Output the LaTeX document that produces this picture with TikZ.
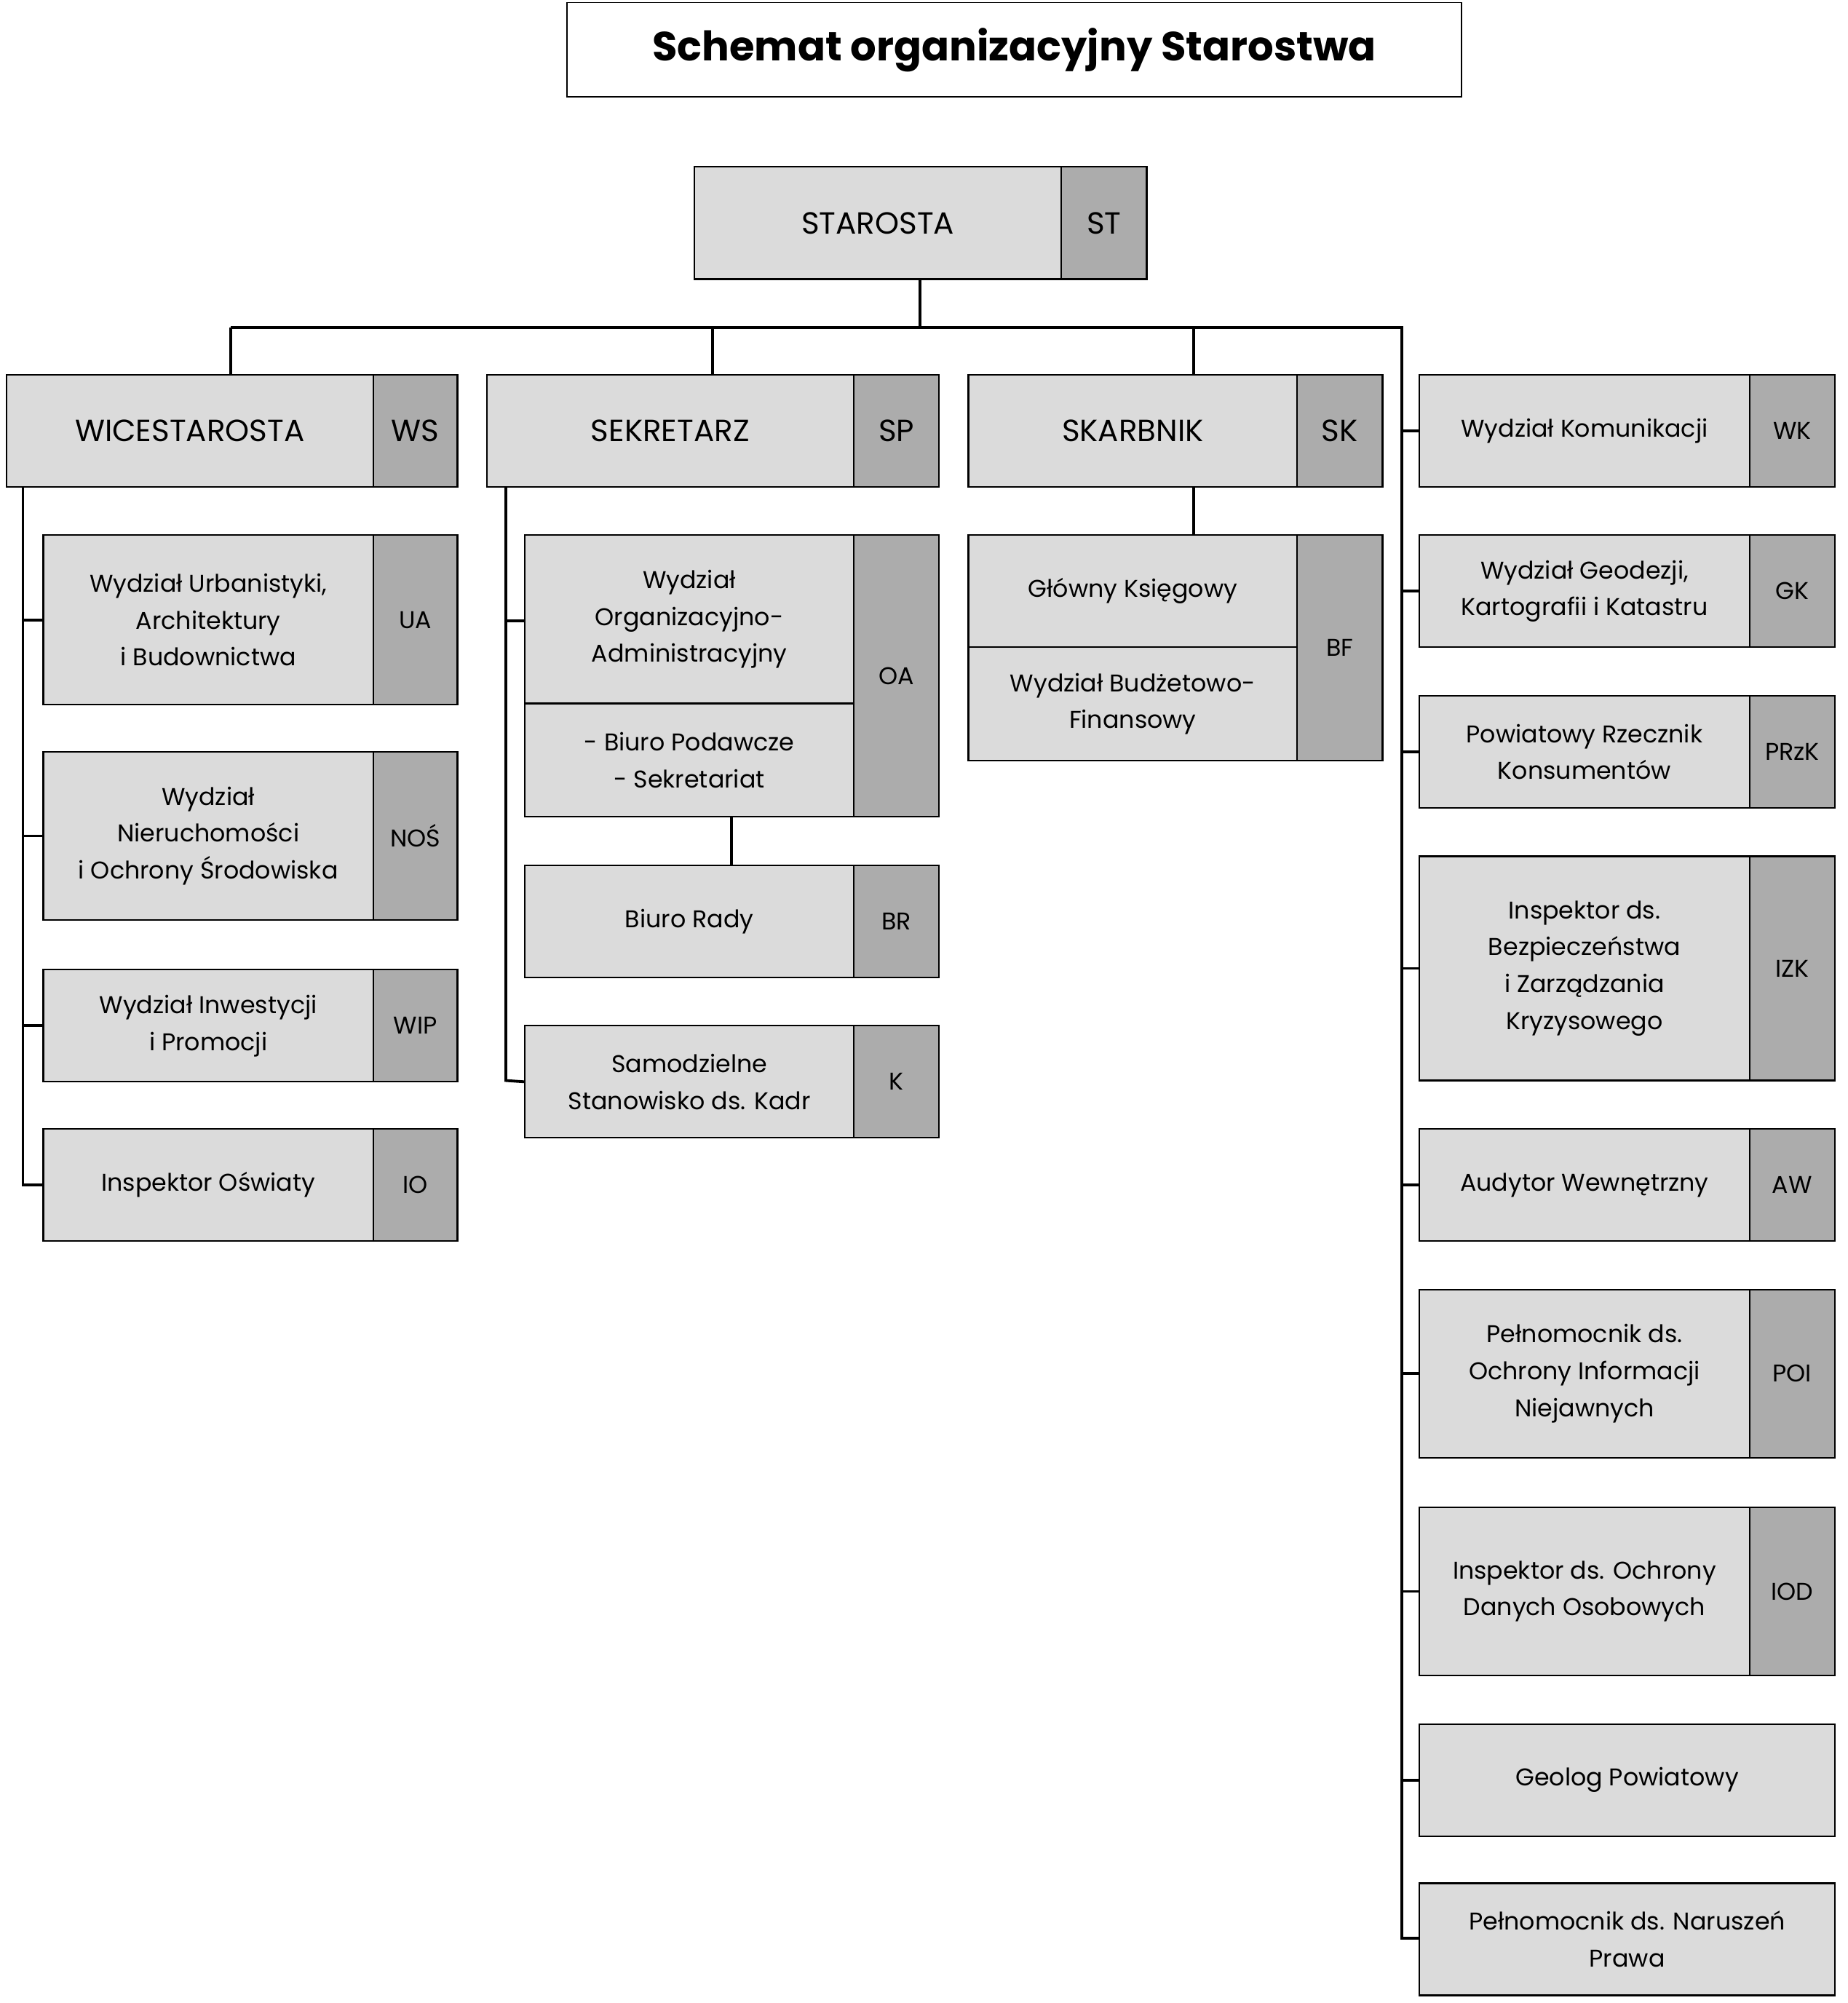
\documentclass[tikz,border=0pt]{standalone}
\usepackage{fontspec}
\setmainfont{Poppins}
\newcommand\bx[7]{\node[#6, minimum width={(#4-#2)*1pt}, minimum height={(#5-#3)*1pt}] (#1) at ({(#2+#4)/2},{(#3+#5)/2}) {#7};}
\tikzset{
 mainbox/.style={draw=black, line width=1.3pt, fill=gray!28, inner sep=0pt, align=center, font=\fontsize{19}{29}\selectfont},
 bigbox/.style={mainbox, font=\fontsize{24}{30}\selectfont},
 codebox/.style={draw=black, line width=1.3pt, fill=gray!65, inner sep=0pt, align=center, font=\fontsize{19}{29}\selectfont},
 bigcode/.style={codebox, font=\fontsize{24}{30}\selectfont},
 conn/.style={line width=2.2pt},
}
\begin{document}
\begin{tikzpicture}[x=1pt,y=-1pt]
\useasboundingbox (0,0) rectangle (1450,1572);
\bx{title}{445}{2}{1147}{76}{draw=black,line width=1pt,font=\fontsize{32}{36}\selectfont\bfseries}{Schemat organizacyjny Starostwa}
% top
\bx{st}{545}{131}{833}{219}{bigbox}{STAROSTA}
\bx{stc}{833}{131}{900}{219}{bigcode}{ST}
\bx{ws}{5}{294}{293}{382}{bigbox}{WICESTAROSTA}
\bx{wsc}{293}{294}{359}{382}{bigcode}{WS}
\bx{sp}{382}{294}{670}{382}{bigbox}{SEKRETARZ}
\bx{spc}{670}{294}{737}{382}{bigcode}{SP}
\bx{sk}{760}{294}{1018}{382}{bigbox}{SKARBNIK}
\bx{skc}{1018}{294}{1085}{382}{bigcode}{SK}
% left column
\bx{ua}{34}{420}{293}{553}{mainbox}{Wydział Urbanistyki,\\Architektury\\i Budownictwa}
\bx{uac}{293}{420}{359}{553}{codebox}{UA}
\bx{nos}{34}{590}{293}{722}{mainbox}{Wydział\\Nieruchomości\\i Ochrony Środowiska}
\bx{nosc}{293}{590}{359}{722}{codebox}{NOŚ}
\bx{wip}{34}{761}{293}{849}{mainbox}{Wydział Inwestycji\\i Promocji}
\bx{wipc}{293}{761}{359}{849}{codebox}{WIP}
\bx{io}{34}{886}{293}{974}{mainbox}{Inspektor Oświaty}
\bx{ioc}{293}{886}{359}{974}{codebox}{IO}
% sekretarz column
\bx{oa}{412}{420}{670}{552}{mainbox}{Wydział\\Organizacyjno-\\Administracyjny}
\bx{bp}{412}{552}{670}{641}{mainbox}{- Biuro Podawcze\\- Sekretariat}
\bx{oac}{670}{420}{737}{641}{codebox}{OA}
\bx{br}{412}{679}{670}{767}{mainbox}{Biuro Rady}
\bx{brc}{670}{679}{737}{767}{codebox}{BR}
\bx{k}{412}{805}{670}{893}{mainbox}{Samodzielne\\Stanowisko ds. Kadr}
\bx{kc}{670}{805}{737}{893}{codebox}{K}
% skarbnik column
\bx{gk1}{760}{420}{1018}{508}{mainbox}{Główny Księgowy}
\bx{bfl}{760}{508}{1018}{597}{mainbox}{Wydział Budżetowo-\\Finansowy}
\bx{bfc}{1018}{420}{1085}{597}{codebox}{BF}
% right column
\bx{wk}{1114}{294}{1373}{382}{mainbox}{Wydział Komunikacji}
\bx{wkc}{1373}{294}{1440}{382}{codebox}{WK}
\bx{gk}{1114}{420}{1373}{508}{mainbox}{Wydział Geodezji,\\Kartografii i Katastru}
\bx{gkc}{1373}{420}{1440}{508}{codebox}{GK}
\bx{prz}{1114}{546}{1373}{634}{mainbox}{Powiatowy Rzecznik\\Konsumentów}
\bx{przc}{1373}{546}{1440}{634}{codebox}{PRzK}
\bx{izk}{1114}{672}{1373}{848}{mainbox}{Inspektor ds.\\Bezpieczeństwa\\i Zarządzania\\Kryzysowego}
\bx{izkc}{1373}{672}{1440}{848}{codebox}{IZK}
\bx{aw}{1114}{886}{1373}{974}{mainbox}{Audytor Wewnętrzny}
\bx{awc}{1373}{886}{1440}{974}{codebox}{AW}
\bx{poi}{1114}{1012}{1373}{1144}{mainbox}{Pełnomocnik ds.\\Ochrony Informacji\\Niejawnych}
\bx{poic}{1373}{1012}{1440}{1144}{codebox}{POI}
\bx{iod}{1114}{1183}{1373}{1315}{mainbox}{Inspektor ds. Ochrony\\Danych Osobowych}
\bx{iodc}{1373}{1183}{1440}{1315}{codebox}{IOD}
\bx{geo}{1114}{1353}{1440}{1441}{mainbox}{Geolog Powiatowy}
\bx{pnp}{1114}{1478}{1440}{1566}{mainbox}{Pełnomocnik ds. Naruszeń\\Prawa}
% connectors
\coordinate (bl) at (181,257); \coordinate (br2) at (1100,257);
\draw[conn] (722,219) -- (722,257);
\draw[conn] (bl) -- (br2) -- (1100,1521) -- (pnp.west |- 0,1521);
\draw[conn] (bl) -- (181,294);
\draw[conn] (559,257) -- (559,294);
\draw[conn] (937,257) -- (937,294);
\foreach \n in {wk,gk,prz,izk,aw,poi,iod,geo} \draw[conn] (1100,0 |- \n.west) -- (\n.west);
\draw[conn] (18,382) -- (18,930) -- (io.west);
\foreach \n in {ua,nos,wip} \draw[conn] (18,0 |- \n.west) -- (\n.west);
\draw[conn] (397,382) -- (397,848) -- (k.west);
\draw[conn] (397,487) -- (412,487);
\draw[conn] (574,641) -- (574,679);
\draw[conn] (937,382) -- (937,420);
\end{tikzpicture}
\end{document}
